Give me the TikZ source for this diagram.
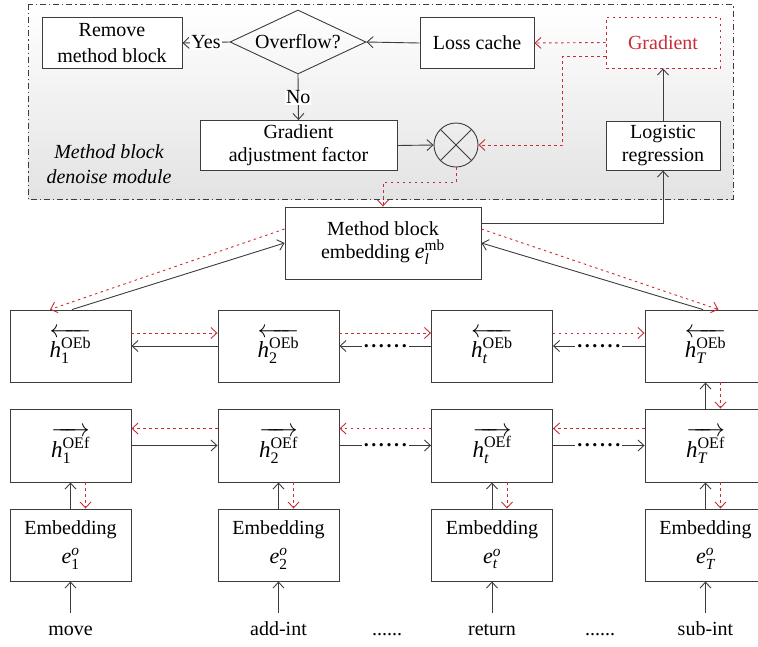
\documentclass[tikz,border=0pt]{standalone}
\usepackage{fontspec}
\usepackage{amsmath}
\setmainfont{Liberation Serif}
\usetikzlibrary{arrows.meta,shapes.geometric,calc}
\definecolor{lineg}{RGB}{60,60,60}
\definecolor{gradred}{RGB}{200,45,55}
% bold dots that interrupt a recurrent connector
\newcommand\chaindots{\textbf{.\kern2.6pt.\kern2.6pt.\kern2.6pt.\kern2.6pt.\kern2.6pt.}}
% italic letters in math taken from the text font
\newcommand\mi[1]{\text{\itshape #1}}
\newcommand\hback[1]{{\fontsize{23}{26}\selectfont$\overleftarrow{\mi{h}^{\text{OEb}}_{#1}}$}}
\newcommand\hfwd[1]{{\fontsize{23}{26}\selectfont$\overrightarrow{\mi{h}^{\text{OEf}}_{#1}}$}}
\newcommand\embsym[1]{{\fontsize{22}{24}\selectfont$\mi{e}^{\mi{o}}_{#1}$}}
\begin{document}
\begin{tikzpicture}[x=1pt,y=-1pt,
  font=\fontsize{20}{24}\selectfont,
  box/.style={draw=lineg, line width=0.9pt, align=center, inner sep=0pt, fill=white},
  cell/.style={box, minimum width=121pt, minimum height=72pt},
  conn/.style={draw=lineg, line width=0.9pt, -{Straight Barb[length=6pt,width=11pt]}},
  back/.style={draw=gradred, line width=0.9pt, dash pattern=on 2.5pt off 3.5pt,
    -{Straight Barb[length=6pt,width=11pt]}},
  word/.style={inner sep=0pt, minimum height=34pt, text height=14pt, text depth=4pt},
  dotsnode/.style={fill=white, inner xsep=2pt, inner ysep=1pt},
  tag/.style={fill=white, inner sep=1pt}]
\useasboundingbox (0,0) rectangle (758,646);

% shaded denoise module frame
\draw[lineg, line width=0.9pt, dash pattern=on 6pt off 3pt on 1.2pt off 3pt,
  top color=white, bottom color=black!11] (28,4) rectangle (733,199);
\node[align=center, font=\fontsize{20}{25}\selectfont\itshape] (modlabel) at (109,164)
  {Method block\\denoise module};

% denoise module
\node[box, minimum width=140pt, minimum height=51pt, font=\fontsize{20}{26}\selectfont] (remove) at (112,43) {Remove\\method block};
\node[draw=lineg, line width=0.9pt, diamond, aspect=2.1, inner sep=0pt,
  minimum width=136pt, minimum height=64pt] (overflow) at (298,42) {Overflow?};
\node[box, minimum width=114pt, minimum height=51pt] (losscache) at (477,43) {Loss cache};
\node[draw=gradred, line width=0.9pt, dash pattern=on 2.5pt off 3.5pt, text=gradred,
  minimum width=114pt, minimum height=51pt, inner sep=0pt, fill=white] (gradient) at (663,42.5) {Gradient};
\node[box, minimum width=197pt, minimum height=50pt, font=\fontsize{20}{23}\selectfont] (gaf) at (298.5,145.5) {Gradient\\adjustment factor};
\node[draw=lineg, line width=0.9pt, circle, minimum size=44pt, inner sep=0pt] (ox) at (456,145) {};
\draw[lineg, line width=0.9pt] (ox.north east) -- (ox.south west) (ox.north west) -- (ox.south east);
\node[box, minimum width=114pt, minimum height=49pt, font=\fontsize{20}{23}\selectfont] (logreg) at (663,145.5) {Logistic\\regression};

% method block embedding
\node[box, minimum width=196pt, minimum height=72pt, font=\fontsize{20}{23}\selectfont] (mb) at (383,243)
  {Method block\\embedding {\fontsize{22}{24}\selectfont$\mi{e}_{\mi{l}}^{\text{mb}}$}};

% backward states
\node[cell] (hb1) at (70.5,346) {\hback{\text{1}}};
\node[cell] (hb2) at (278.5,346) {\hback{\text{2}}};
\node[cell] (hb3) at (492,346) {\hback{\mi{t}}};
\node[cell] (hb4) at (705.5,346) {\hback{\mi{T}}};

% forward states
\node[cell, minimum height=73pt] (hf1) at (70.5,445.5) {\hfwd{\text{1}}};
\node[cell, minimum height=73pt] (hf2) at (278.5,445.5) {\hfwd{\text{2}}};
\node[cell, minimum height=73pt] (hf3) at (492,445.5) {\hfwd{\mi{t}}};
\node[cell, minimum height=73pt] (hf4) at (705.5,445.5) {\hfwd{\mi{T}}};

% embeddings
\node[cell, font=\fontsize{20}{29}\selectfont] (emb1) at (70.5,545) {Embedding\\\embsym{\text{1}}};
\node[cell, font=\fontsize{20}{29}\selectfont] (emb2) at (278.5,545) {Embedding\\\embsym{\text{2}}};
\node[cell, font=\fontsize{20}{29}\selectfont] (emb3) at (492,545) {Embedding\\\embsym{\mi{t}}};
\node[cell, font=\fontsize{20}{29}\selectfont] (emb4) at (705.5,545) {Embedding\\\embsym{\mi{T}}};

% input tokens
\node[word] (w1) at (70.5,630) {move};
\node[word] (w2) at (278.5,630) {add-int};
\node[word] (wd1) at (387,630) {......};
\node[word] (w3) at (492,630) {return};
\node[word] (wd2) at (600,630) {......};
\node[word] (w4) at (705.5,630) {sub-int};

% flow inside the module
\draw[conn] (losscache.west) -- (overflow.east);
\draw[conn] (overflow.west) -- node[tag] {Yes} (remove.east);
\draw[conn] (overflow.south) -- node[tag] {No} (gaf.north);
\draw[conn] (gaf.east) -- (ox.west);
\draw[conn] (logreg.north) -- (gradient.south);
\draw[back] (gradient.west) -- (losscache.east);
\draw[back] ([yshift=-13.5pt]gradient.west) -- ++(-43,0) |- (ox.east);
\draw[back] (ox.south) -- ++(0,15) -| (mb.north);
\draw[conn] ([yshift=20pt]mb.east) -| (logreg.south);

% method block embedding to the end states
\draw[conn] ([xshift=1.5pt]hb1.north) -- (mb.west);
\draw[back] ([yshift=14pt]mb.west) -- ([xshift=-20.5pt]hb1.north);
\draw[conn] ([xshift=-2.5pt]hb4.north) -- (mb.east);
\draw[back] ([yshift=14pt]mb.east) -- ([xshift=13pt]hb4.north);

% backward chain
\draw[back] ([yshift=13pt]hb1.east) -- ([yshift=13pt]hb2.west);
\draw[back] ([yshift=13pt]hb2.east) -- ([yshift=13pt]hb3.west);
\draw[back] ([yshift=13pt]hb3.east) -- ([yshift=13pt]hb4.west);
\draw[conn] (hb2.west) -- (hb1.east);
\draw[conn] (hb3.west) -- node[dotsnode] {\chaindots} (hb2.east);
\draw[conn] (hb4.west) -- node[dotsnode] {\chaindots} (hb3.east);

% forward chain
\draw[back] ([yshift=17pt]hf2.west) -- ([yshift=17pt]hf1.east);
\draw[back] ([yshift=17pt]hf3.west) -- ([yshift=17pt]hf2.east);
\draw[back] ([yshift=17pt]hf4.west) -- ([yshift=17pt]hf3.east);
\draw[conn] (hf1.east) -- (hf2.west);
\draw[conn] (hf2.east) -- node[dotsnode] {\chaindots} (hf3.west);
\draw[conn] (hf3.east) -- node[dotsnode] {\chaindots} (hf4.west);

% vertical links
\foreach \i in {1,2,3,4}{
  \draw[conn] (w\i.north) -- (emb\i.south);
  \draw[conn] (emb\i.north) -- (hf\i.south);
  \draw[back] ([xshift=15pt]hf\i.south) -- ([xshift=15pt]emb\i.north);
}
\draw[conn] (hf4.north) -- (hb4.south);
\draw[back] ([xshift=15pt]hb4.south) -- ([xshift=15pt]hf4.north);
\end{tikzpicture}
\end{document}
